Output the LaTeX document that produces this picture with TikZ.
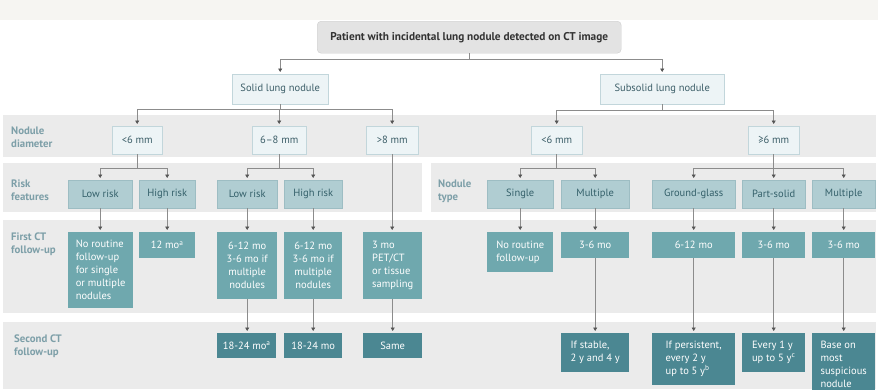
\documentclass[tikz,border=0pt]{standalone}
\usepackage{fontspec}
\setmainfont{PT Sans}
\usetikzlibrary{arrows.meta}
\definecolor{topstrip}{HTML}{F6F5F2}
\definecolor{band}{HTML}{EBEBEB}
\definecolor{titlefill}{HTML}{E3E3E3}
\definecolor{titledraw}{HTML}{CFCFCF}
\definecolor{lightfill}{HTML}{EDF4F6}
\definecolor{lightdraw}{HTML}{C2D6DB}
\definecolor{lighttext}{HTML}{3C5E68}
\definecolor{midfill}{HTML}{B0CDD2}
\definecolor{middraw}{HTML}{9DBDC3}
\definecolor{midtext}{HTML}{34606A}
\definecolor{firstfill}{HTML}{6FA8AE}
\definecolor{secondfill}{HTML}{4B8792}
\definecolor{lbltext}{HTML}{7D9FA8}
\definecolor{connc}{HTML}{8C8C8C}
\definecolor{tipc}{HTML}{555555}
\tikzset{
  anybox/.style={anchor=north west, inner xsep=3pt, inner ysep=0pt, font=\fontsize{10.5}{13}\selectfont},
  titlebox/.style={anybox, fill=titlefill, draw=titledraw, rounded corners=4pt, text=black!80, font=\bfseries\fontsize{11.3}{13}\selectfont},
  lightbox/.style={anybox, fill=lightfill, draw=lightdraw, text=lighttext},
  midbox/.style={anybox, fill=midfill, draw=middraw, text=midtext},
  firstbox/.style={anybox, fill=firstfill, text=white},
  secondbox/.style={anybox, fill=secondfill, text=white},
  lbl/.style={anchor=north west, inner sep=0pt, align=left, text=lbltext, font=\bfseries\fontsize{10.8}{12.5}\selectfont},
  conn/.style={draw=connc, line width=0.6pt, -{Triangle[length=3.5pt,width=4pt,fill=tipc,color=tipc]}, shorten >=2pt},
}
\newcommand{\bx}[7]{% style, name, x, y, w, h, text
  \node[#1, minimum width=#5pt, minimum height=#6pt] (#2) at (#3,-#4) {#7};}
\begin{document}
\begin{tikzpicture}[x=1pt,y=1pt]
\useasboundingbox (0,0) rectangle (878,-389);
\fill[white] (0,0) rectangle (878,-389);
\fill[topstrip] (0,0) rectangle (878,-20);
% bands
\fill[band] (3,-115) rectangle (876,-157);
\fill[band] (3,-163) rectangle (422,-212);
\fill[band] (431,-163) rectangle (876,-212);
\fill[band] (3,-220) rectangle (876,-313);
\fill[band] (3,-322) rectangle (876,-389);
% row labels
\node[lbl] (l1) at (11,-127) {Nodule\\diameter};
\node[lbl] (l2) at (11,-180) {Risk\\features};
\node[lbl] (l2b) at (438,-180) {Nodule\\type};
\node[lbl] (l3) at (11,-233) {First CT\\follow-up};
\node[lbl] (l4) at (14,-335) {Second CT\\follow-up};
% title and level 1
\bx{titlebox}{title}{317}{21}{304}{32}{Patient with incidental lung nodule detected on CT image}
\bx{lightbox}{solid}{232}{74}{96}{30}{Solid lung nodule}
\bx{lightbox}{subsolid}{600}{74}{124}{30}{Subsolid lung nodule}
% diameter
\bx{lightbox}{s6}{112}{126}{50}{28}{<6 mm}
\bx{lightbox}{s68}{252}{126}{54}{28}{6–8 mm}
\bx{lightbox}{s8}{366}{126}{52}{28}{>8 mm}
\bx{lightbox}{u6}{531}{126}{51}{28}{<6 mm}
\bx{lightbox}{u6p}{748}{126}{51}{28}{≥6 mm}
% risk / type
\bx{midbox}{lr1}{68}{180}{64}{28}{Low risk}
\bx{midbox}{hr1}{139}{180}{56}{28}{High risk}
\bx{midbox}{lr2}{217}{180}{60}{28}{Low risk}
\bx{midbox}{hr2}{284}{180}{58}{28}{High risk}
\bx{midbox}{single}{487}{180}{66}{28}{Single}
\bx{midbox}{mult1}{561}{180}{68}{28}{Multiple}
\bx{midbox}{gg}{652}{180}{83}{28}{Ground-glass}
\bx{midbox}{ps}{742}{180}{63}{28}{Part-solid}
\bx{midbox}{mult2}{812}{180}{63}{28}{Multiple}
% first CT
\bx{firstbox,align=left}{f1}{68}{232}{65}{76}{No routine\\follow-up\\for single\\or multiple\\nodules}
\bx{firstbox}{f2}{139}{232}{56}{26}{12 mo\textsuperscript{a}}
\bx{firstbox,align=center}{f3}{217}{232}{60}{67}{6-12 mo\\3-6 mo if\\multiple\\nodules}
\bx{firstbox,align=center}{f4}{284}{232}{58}{67}{6-12 mo\\3-6 mo if\\multiple\\nodules}
\bx{firstbox,align=left}{f5}{363}{232}{59}{67}{3 mo\\PET/CT\\or tissue\\sampling}
\bx{firstbox,align=left}{f6}{487}{232}{66}{40}{No routine\\follow-up}
\bx{firstbox}{f7}{561}{232}{68}{26}{3-6 mo}
\bx{firstbox}{f8}{652}{232}{83}{26}{6-12 mo}
\bx{firstbox}{f9}{742}{232}{63}{26}{3-6 mo}
\bx{firstbox}{f10}{812}{232}{63}{26}{3-6 mo}
% second CT
\bx{secondbox}{g3}{217}{333}{59}{25}{18-24 mo\textsuperscript{a}}
\bx{secondbox}{g4}{284}{333}{58}{25}{18-24 mo}
\bx{secondbox}{g5}{363}{333}{59}{25}{Same}
\bx{secondbox,align=left}{g7}{561}{333}{68}{39}{If stable,\\2 y and 4 y}
\bx{secondbox,align=left}{g8}{652}{333}{83}{52}{If persistent,\\every 2 y\\up to 5 y\textsuperscript{b}}
\bx{secondbox,align=left}{g9}{742}{333}{63}{39}{Every 1 y\\up to 5 y\textsuperscript{c}}
\bx{secondbox,align=left}{g10}{812}{333}{63}{62}{Base on\\most\\suspicious\\nodule}
% connectors
\draw[conn] (title.south) -- ++(0,-6) -| (solid.north);
\draw[conn] (title.south) -- ++(0,-6) -| (subsolid.north);
\foreach \c in {s6,s68,s8} \draw[conn] (solid.south) -- ++(0,-5) -| (\c.north);
\foreach \c in {u6,u6p} \draw[conn] (subsolid.south) -- ++(0,-6) -| (\c.north);
\foreach \c in {lr1,hr1} \draw[conn] (s6.south) -- ++(0,-14) -| (\c.north);
\foreach \c in {lr2,hr2} \draw[conn] (s68.south) -- ++(0,-14) -| (\c.north);
\foreach \c in {single,mult1} \draw[conn] (u6.south) -- ++(0,-14) -| (\c.north);
\foreach \c in {gg,ps,mult2} \draw[conn] (u6p.south) -- ++(0,-14) -| (\c.north);
\foreach \a/\b in {lr1/f1,hr1/f2,lr2/f3,hr2/f4,s8/f5,single/f6,mult1/f7,gg/f8,ps/f9,mult2/f10,f3/g3,f4/g4,f5/g5,f7/g7,f8/g8,f9/g9,f10/g10}
  \draw[conn] (\a.south) -- (\a.south |- \b.north);
\end{tikzpicture}
\end{document}
